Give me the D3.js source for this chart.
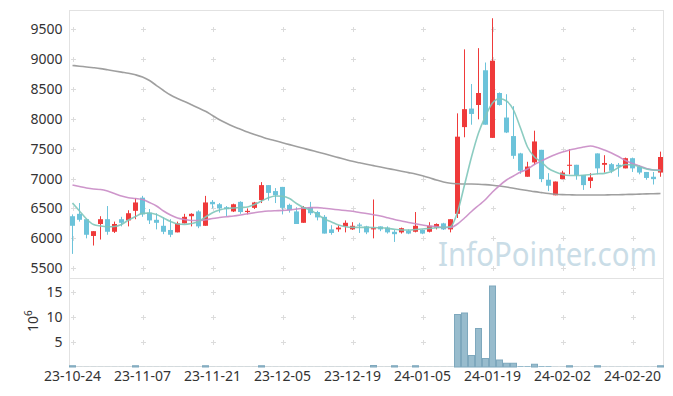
<!DOCTYPE html>
<html>
<head>
<meta charset="utf-8">
<script src="https://cdn.jsdelivr.net/npm/d3@7/dist/d3.min.js"></script>
<style>
html,body{margin:0;padding:0;background:#fff;}
svg{display:block;font-family:"Noto Sans",sans-serif;}
</style>
</head>
<body>
<div id="chart"></div>
<script>
const dates = [
"23-10-24","23-10-25","23-10-26","23-10-27","23-10-30","23-10-31",
"23-11-01","23-11-02","23-11-03","23-11-06","23-11-07","23-11-08","23-11-09","23-11-10","23-11-13","23-11-14","23-11-15","23-11-16","23-11-17","23-11-20","23-11-21","23-11-22","23-11-23","23-11-24","23-11-27","23-11-28","23-11-29","23-11-30",
"23-12-01","23-12-04","23-12-05","23-12-06","23-12-07","23-12-08","23-12-11","23-12-12","23-12-13","23-12-14","23-12-15","23-12-18","23-12-19","23-12-20","23-12-21","23-12-22","23-12-26","23-12-27","23-12-28",
"24-01-02","24-01-03","24-01-04","24-01-05","24-01-08","24-01-09","24-01-10","24-01-11","24-01-12","24-01-15","24-01-16","24-01-17","24-01-18","24-01-19","24-01-22","24-01-23","24-01-24","24-01-25","24-01-26","24-01-29","24-01-30","24-01-31",
"24-02-01","24-02-02","24-02-05","24-02-06","24-02-07","24-02-08","24-02-13","24-02-14","24-02-15","24-02-16","24-02-19","24-02-20","24-02-21","24-02-22","24-02-23","24-02-26"];

const open = [6370,6410,6320,6040,6240,6320,6110,6320,6300,6460,
6680,6430,6310,6210,6140,6100,6250,6370,6450,6210,
6610,6570,6520,6450,6610,6440,6510,6640,6890,6790,
6860,6560,6450,6260,6520,6440,6360,6150,6150,6200,
6150,6230,6200,6150,6200,6180,6110,6100,6130,6110,
6140,6110,6180,6250,6150,6410,7860,8170,8230,8810,
7680,8430,8020,7710,7420,7030,7270,7480,6980,6720,
6990,7220,7230,7060,6960,7420,7230,7240,7230,7170,
7340,7200,7110,7030,7100];

const high = [6400,6590,6330,6120,6370,6540,6280,6360,6470,6670,
6710,6490,6420,6350,6320,6280,6410,6420,6470,6710,
6640,6590,6540,6580,6620,6500,6610,6940,6890,6840,
6860,6580,6520,6540,6610,6460,6390,6220,6220,6300,
6270,6260,6210,6650,6200,6200,6140,6180,6150,6440,
6150,6270,6250,6260,6320,8090,9160,8580,9180,8940,
9680,8440,8410,8210,7430,7280,7800,7480,7090,6950,
7130,7490,7230,7060,7090,7420,7390,7260,7260,7350,
7350,7220,7110,7110,7450];

const low = [5740,6280,6000,5880,5980,6060,6090,6200,6200,6320,
6360,6240,6150,6070,6020,6100,6250,6200,6170,6210,
6500,6430,6370,6440,6410,6400,6490,6590,6630,6590,
6400,6430,6240,6260,6390,6300,6080,6060,6110,6100,
6140,6090,6070,6000,6120,6080,5940,6080,6070,6100,
6070,6100,6150,6140,6100,6340,7690,7900,7990,7900,
7680,8220,7760,7330,7080,7030,7230,6940,6790,6720,
6990,7070,6980,6810,6840,7070,7100,7090,7030,7170,
7110,7070,6980,6900,7030];

const close = [6210,6310,6060,6120,6320,6110,6240,6260,6420,6600,
6400,6300,6260,6110,6060,6250,6360,6410,6200,6600,
6570,6500,6490,6570,6440,6460,6600,6890,6760,6720,
6510,6470,6240,6520,6420,6350,6080,6090,6180,6260,
6210,6210,6100,6170,6150,6100,6070,6170,6080,6210,
6080,6210,6240,6150,6320,7700,8160,8080,8430,7900,
8970,8230,7770,7380,7130,7200,7620,6990,6880,6950,
7100,7230,7060,6890,7020,7170,7260,7130,7200,7340,
7170,7100,7010,6990,7360];

// volume in millions of shares
const volume = [0.25,0.04,0.04,0.04,0.04,0.04,0.04,0.04,0.04,0.25,
0.04,0.04,0.04,0.04,0.04,0.04,0.04,0.04,0.04,0.25,
0.04,0.04,0.04,0.04,0.04,0.04,0.04,0.25,0.04,0.04,
0.04,0.04,0.04,0.04,0.04,0.04,0.04,0.04,0.04,0.04,
0.04,0.04,0.04,0.3,0.04,0.04,0.25,0.04,0.04,0.25,
0.04,0.04,0.04,0.04,0.04,10.5,10.8,2.3,7.7,1.7,
16.2,1.4,0.75,0.75,0.2,0.2,0.55,0.2,0.2,0.05,
0.05,0.25,0.05,0.05,0.05,0.25,0.05,0.05,0.05,0.05,
0.05,0.05,0.05,0.05,0.25];

const ma5 = [6590,6457,6323,6231,6206,6195,6198,6231,6306,6365,
6418,6424,6398,6340,6281,6240,6234,6248,6281,6357,
6429,6474,6499,6507,6516,6524,6566,6624,6678,6708,
6703,6666,6582,6516,6474,6398,6323,6273,6223,6193,
6184,6184,6184,6181,6176,6167,6151,6139,6139,6147,
6156,6167,6178,6184,6195,6440,6892,7360,7761,8045,
8263,8333,8296,8146,7845,7527,7360,7276,7168,7109,
7067,7051,7051,7056,7067,7079,7087,7117,7184,7234,
7226,7198,7159,7143,7131];

const ma20 = [6892,6867,6842,6825,6817,6791,6750,6708,6678,6666,
6649,6599,6541,6457,6390,6340,6315,6298,6298,6310,
6332,6348,6362,6373,6390,6410,6429,6446,6457,6462,
6465,6474,6490,6504,6513,6513,6502,6490,6477,6465,
6452,6432,6415,6395,6373,6345,6315,6290,6265,6243,
6223,6206,6198,6181,6181,6240,6340,6449,6549,6649,
6775,6883,6975,7042,7109,7159,7234,7293,7351,7402,
7443,7477,7502,7527,7544,7519,7477,7427,7368,7301,
7251,7209,7168,7143,7143];

const ma60 = [8891,8878,8866,8853,8838,8818,8798,8779,8761,8734,
8697,8639,8555,8472,8396,8338,8288,8234,8179,8126,
8054,7984,7923,7870,7825,7778,7736,7698,7661,7631,
7599,7567,7535,7505,7475,7443,7413,7382,7350,7318,
7288,7263,7239,7216,7193,7169,7146,7122,7099,7076,
7046,7012,6975,6942,6920,6912,6908,6908,6905,6898,
6888,6875,6858,6837,6818,6800,6781,6765,6750,6738,
6731,6728,6724,6724,6724,6724,6726,6728,6729,6733,
6736,6740,6743,6746,6750];

const priceTicks = [5500,6000,6500,7000,7500,8000,8500,9000,9500];
const volTicks = [5,10,15];
const xTickDates = ["23-10-24","23-11-07","23-11-21","23-12-05","23-12-19","24-01-05","24-01-19","24-02-02","24-02-20"];

const W = 673, H = 396;
const L = 69.5, R = 663.5, T = 10.5, MID = 278.5, B = 366.5;

const svg = d3.select("#chart").append("svg").attr("width", W).attr("height", H);

const x = d3.scaleBand().domain(dates).range([69, 664]).padding(0);
const cx = d => x(d) + x.bandwidth() / 2;
const y = d3.scaleLinear().domain([5337, 9818]).range([278, 10]);
const yv = d3.scaleLinear().domain([0, 17.8]).range([367, 278]);

// watermark
svg.append("text")
  .attr("transform", "translate(438,266) scale(0.89,1)")
  .style("font-size", "33px").style("fill", "#cadde7")
  .text("InfoPointer.com");

// frame
const frame = svg.append("g").attr("fill", "none").attr("stroke", "#e2e2e2").attr("stroke-width", 1);
frame.append("rect").attr("x", L).attr("y", T).attr("width", R - L).attr("height", MID - T);
frame.append("rect").attr("x", L).attr("y", MID).attr("width", R - L).attr("height", B - MID);

// grid plus markers
const plus = svg.append("g").attr("stroke", "#dcdcdc").attr("stroke-width", 1);
const gx = xTickDates.map(d => Math.round(cx(d)) + 0.5);
const gy = priceTicks.map(v => Math.round(y(v)) + 0.5).concat(volTicks.map(v => Math.round(yv(v)) + 0.5));
gx.forEach(px => gy.forEach(py => {
  plus.append("line").attr("x1", px - 2.5).attr("x2", px + 2.5).attr("y1", py).attr("y2", py);
  plus.append("line").attr("x1", px).attr("x2", px).attr("y1", py - 2.5).attr("y2", py + 2.5);
}));

// axes
const axisStyle = g => {
  g.select(".domain").remove();
  g.selectAll("text").style("font-size", "14px").style("fill", "#333").style("font-family", '"Noto Sans",sans-serif');
};
svg.append("g").attr("transform", `translate(${L},0)`)
  .call(d3.axisLeft(y).tickValues(priceTicks).tickSize(0).tickPadding(7).tickFormat(d3.format("d")))
  .call(axisStyle);
svg.append("g").attr("transform", `translate(${L},0)`)
  .call(d3.axisLeft(yv).tickValues(volTicks).tickSize(0).tickPadding(7).tickFormat(d3.format("d")))
  .call(axisStyle);
svg.append("g").attr("transform", `translate(0,${B})`)
  .call(d3.axisBottom(x).tickValues(xTickDates).tickSize(0).tickPadding(5))
  .call(axisStyle);

// 10^6 label
const vl = svg.append("text").attr("transform", "translate(38,332) rotate(-90)")
  .style("font-size", "14px").style("fill", "#333");
vl.append("tspan").text("10");
vl.append("tspan").attr("dy", -6).style("font-size", "10px").text("6");

// volume bars
svg.append("g").selectAll("rect").data(volume).join("rect")
  .attr("x", (d, i) => x(dates[i]) + 0.5)
  .attr("width", x.bandwidth() - 1)
  .attr("y", d => yv(d))
  .attr("height", d => yv(0) - yv(d))
  .attr("fill", "#98bccd")
  .attr("stroke", d => (yv(0) - yv(d)) > 1 ? "#7ea8bd" : "none")
  .attr("stroke-width", 1);

// candles
const up = "#ef3a3a", down = "#6cc3da";
const cg = svg.append("g");
dates.forEach((d, i) => {
  const col = close[i] > open[i] ? up : down;
  const c = cx(d);
  cg.append("line").attr("x1", c).attr("x2", c)
    .attr("y1", y(high[i])).attr("y2", y(low[i]))
    .attr("stroke", col).attr("stroke-width", 1);
  const top = y(Math.max(open[i], close[i])), bot = y(Math.min(open[i], close[i]));
  cg.append("rect").attr("x", c - 2.5).attr("width", 5)
    .attr("y", top).attr("height", Math.max(1, bot - top))
    .attr("fill", col);
});

// moving average lines
const line = d3.line().x((d, i) => cx(dates[i])).y(d => y(d)).curve(d3.curveMonotoneX);
svg.append("path").datum(ma60).attr("d", line).attr("fill", "none")
  .attr("stroke", "#9a9a9a").attr("stroke-width", 1.6).attr("opacity", 0.95);
svg.append("path").datum(ma20).attr("d", line).attr("fill", "none")
  .attr("stroke", "#c98bc5").attr("stroke-width", 1.6).attr("opacity", 0.9);
svg.append("path").datum(ma5).attr("d", line).attr("fill", "none")
  .attr("stroke", "#7fc6ba").attr("stroke-width", 1.6).attr("opacity", 0.9);
</script>
</body>
</html>
